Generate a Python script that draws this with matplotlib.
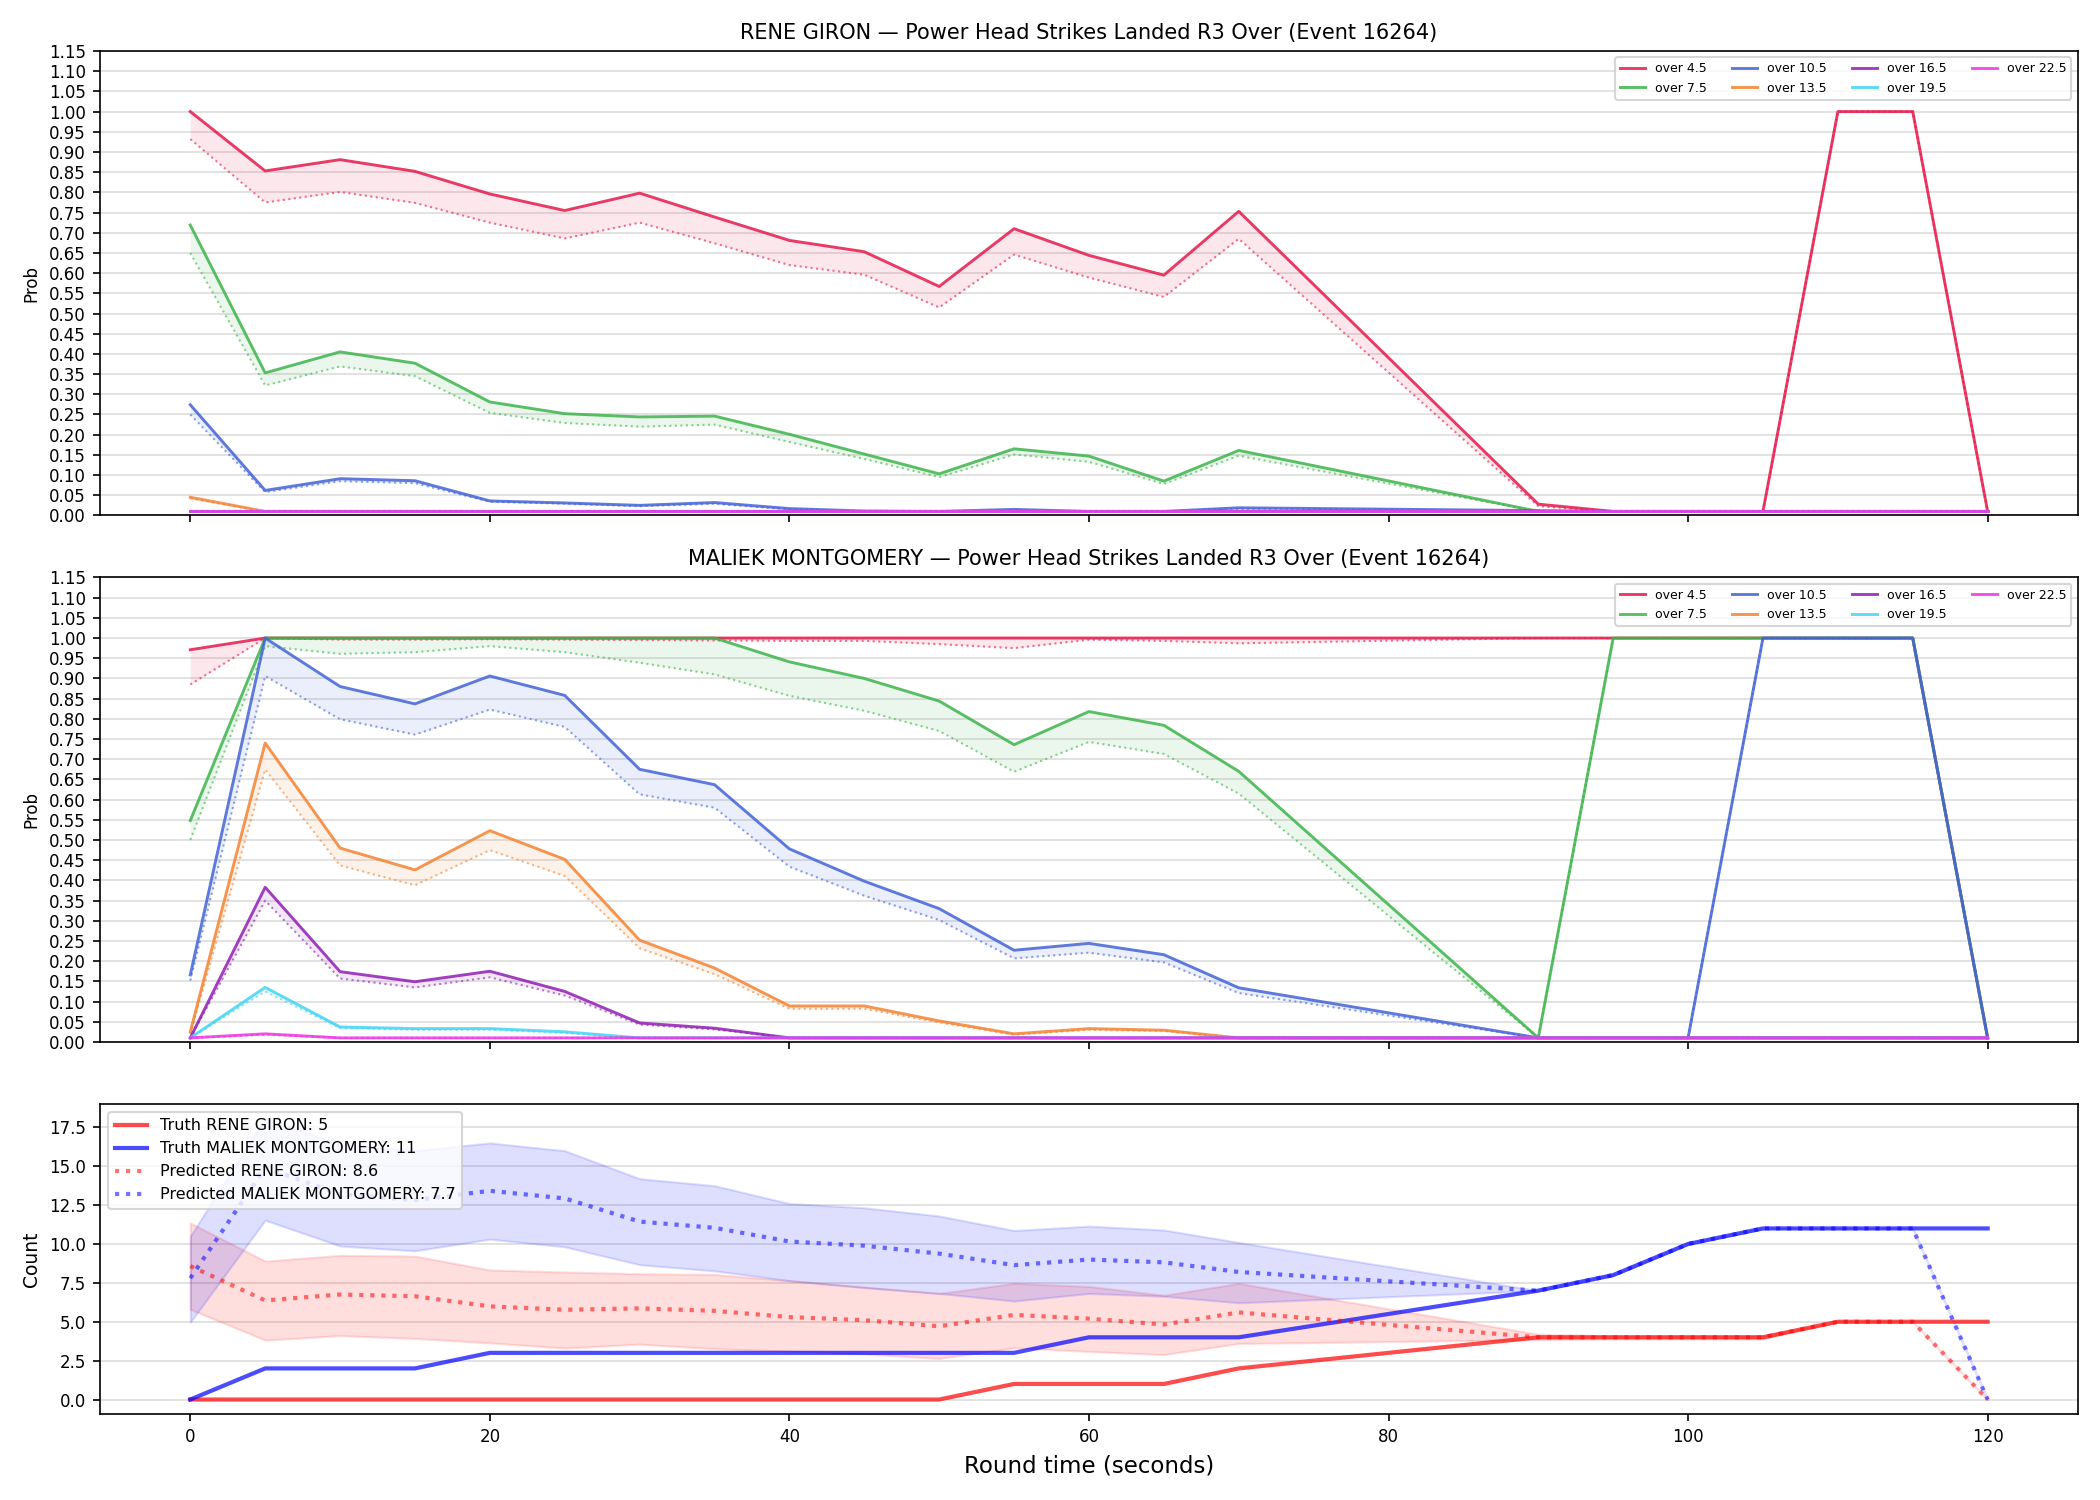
import numpy as np
import matplotlib
matplotlib.use('Agg')
import matplotlib.pyplot as plt

# round time checkpoints (no snapshots between 70 and 90)
t = [0, 5, 10, 15, 20, 25, 30, 35, 40, 45, 50, 55, 60, 65, 70, 90, 95, 100, 105, 110, 115, 120]

lines = ['over 4.5', 'over 7.5', 'over 10.5', 'over 13.5', 'over 16.5', 'over 19.5', 'over 22.5']
colors = ['#e6194B', '#3cb44b', '#4363d8', '#f58231', '#911eb4', '#42d4f4', '#f032e6']

# RENE GIRON: market (solid) vs model (dotted)
giron_mkt = [
    [1.00, 0.853, 0.881, 0.852, 0.796, 0.755, 0.798, 0.739, 0.681, 0.653, 0.567, 0.710, 0.644, 0.595, 0.753, 0.028, 0.01, 0.01, 0.01, 1.0, 1.0, 0.01],
    [0.719, 0.353, 0.405, 0.377, 0.281, 0.252, 0.244, 0.246, 0.201, 0.152, 0.103, 0.165, 0.147, 0.085, 0.161, 0.01, 0.01, 0.01, 0.01, 0.01, 0.01, 0.01],
    [0.274, 0.062, 0.091, 0.086, 0.036, 0.031, 0.025, 0.032, 0.017, 0.011, 0.01, 0.015, 0.01, 0.01, 0.019, 0.012, 0.01, 0.01, 0.01, 0.01, 0.01, 0.01],
    [0.045, 0.01, 0.01, 0.01, 0.01, 0.01, 0.01, 0.01, 0.01, 0.01, 0.01, 0.01, 0.01, 0.01, 0.01, 0.01, 0.01, 0.01, 0.01, 0.01, 0.01, 0.01],
    [0.01] * 22,
    [0.01] * 22,
    [0.01] * 22,
]
giron_model = [
    [0.932, 0.775, 0.801, 0.774, 0.725, 0.686, 0.725, 0.674, 0.620, 0.596, 0.515, 0.646, 0.589, 0.541, 0.685, 0.023, 0.01, 0.01, 0.01, 1.0, 1.0, 0.01],
    [0.650, 0.322, 0.369, 0.345, 0.254, 0.229, 0.220, 0.225, 0.182, 0.140, 0.095, 0.151, 0.133, 0.078, 0.148, 0.01, 0.01, 0.01, 0.01, 0.01, 0.01, 0.01],
    [0.250, 0.058, 0.085, 0.080, 0.034, 0.029, 0.023, 0.029, 0.015, 0.01, 0.01, 0.013, 0.01, 0.01, 0.016, 0.011, 0.01, 0.01, 0.01, 0.01, 0.01, 0.01],
    [0.042, 0.01, 0.01, 0.01, 0.01, 0.01, 0.01, 0.01, 0.01, 0.01, 0.01, 0.01, 0.01, 0.01, 0.01, 0.01, 0.01, 0.01, 0.01, 0.01, 0.01, 0.01],
    [0.01] * 22,
    [0.01] * 22,
    [0.01] * 22,
]

# MALIEK MONTGOMERY
mont_mkt = [
    [0.971, 1.0, 1.0, 1.0, 1.0, 1.0, 1.0, 1.0, 1.0, 1.0, 1.0, 1.0, 1.0, 1.0, 1.0, 1.0, 1.0, 1.0, 1.0, 1.0, 1.0, 0.01],
    [0.548, 1.0, 1.0, 1.0, 1.0, 1.0, 1.0, 1.0, 0.941, 0.900, 0.844, 0.736, 0.818, 0.784, 0.670, 0.01, 1.0, 1.0, 1.0, 1.0, 1.0, 0.01],
    [0.166, 1.0, 0.880, 0.837, 0.906, 0.858, 0.675, 0.637, 0.478, 0.398, 0.330, 0.227, 0.244, 0.216, 0.134, 0.01, 0.01, 0.01, 1.0, 1.0, 1.0, 0.01],
    [0.025, 0.740, 0.480, 0.426, 0.523, 0.452, 0.252, 0.183, 0.089, 0.089, 0.052, 0.020, 0.033, 0.029, 0.01, 0.01, 0.01, 0.01, 0.01, 0.01, 0.01, 0.01],
    [0.01, 0.383, 0.174, 0.149, 0.175, 0.125, 0.047, 0.034, 0.01, 0.01, 0.01, 0.01, 0.01, 0.01, 0.01, 0.01, 0.01, 0.01, 0.01, 0.01, 0.01, 0.01],
    [0.01, 0.135, 0.037, 0.033, 0.033, 0.025, 0.01, 0.01, 0.01, 0.01, 0.01, 0.01, 0.01, 0.01, 0.01, 0.01, 0.01, 0.01, 0.01, 0.01, 0.01, 0.01],
    [0.01, 0.02, 0.01, 0.01, 0.01, 0.01, 0.01, 0.01, 0.01, 0.01, 0.01, 0.01, 0.01, 0.01, 0.01, 0.01, 0.01, 0.01, 0.01, 0.01, 0.01, 0.01],
]
mont_model = [
    [0.885, 1.0, 0.996, 0.996, 0.997, 0.996, 0.995, 0.994, 0.993, 0.993, 0.985, 0.975, 0.996, 0.993, 0.987, 1.0, 1.0, 1.0, 1.0, 1.0, 1.0, 0.01],
    [0.500, 0.980, 0.961, 0.965, 0.980, 0.965, 0.939, 0.910, 0.857, 0.820, 0.770, 0.669, 0.743, 0.713, 0.615, 0.01, 1.0, 1.0, 1.0, 1.0, 1.0, 0.01],
    [0.152, 0.906, 0.799, 0.761, 0.823, 0.780, 0.613, 0.580, 0.434, 0.362, 0.302, 0.207, 0.221, 0.197, 0.121, 0.01, 0.01, 0.01, 1.0, 1.0, 1.0, 0.01],
    [0.020, 0.675, 0.437, 0.388, 0.475, 0.411, 0.232, 0.168, 0.082, 0.082, 0.048, 0.018, 0.030, 0.027, 0.01, 0.01, 0.01, 0.01, 0.01, 0.01, 0.01, 0.01],
    [0.01, 0.350, 0.157, 0.135, 0.160, 0.115, 0.043, 0.031, 0.01, 0.01, 0.01, 0.01, 0.01, 0.01, 0.01, 0.01, 0.01, 0.01, 0.01, 0.01, 0.01, 0.01],
    [0.01, 0.125, 0.034, 0.030, 0.030, 0.022, 0.01, 0.01, 0.01, 0.01, 0.01, 0.01, 0.01, 0.01, 0.01, 0.01, 0.01, 0.01, 0.01, 0.01, 0.01, 0.01],
    [0.01, 0.018, 0.01, 0.01, 0.01, 0.01, 0.01, 0.01, 0.01, 0.01, 0.01, 0.01, 0.01, 0.01, 0.01, 0.01, 0.01, 0.01, 0.01, 0.01, 0.01, 0.01],
]

# counts
truth_giron = [0, 0, 0, 0, 0, 0, 0, 0, 0, 0, 0, 1, 1, 1, 2, 4, 4, 4, 4, 5, 5, 5]
truth_mont = [0, 2, 2, 2, 3, 3, 3, 3, 3, 3, 3, 3, 4, 4, 4, 7, 8, 10, 11, 11, 11, 11]
pred_giron = [8.58, 6.37, 6.75, 6.64, 5.99, 5.77, 5.86, 5.70, 5.30, 5.10, 4.71, 5.44, 5.20, 4.82, 5.60, 4.0, 4.0, 4.0, 4.0, 5.0, 5.0, 0.0]
pred_giron_lo = [5.8, 3.82, 4.11, 3.93, 3.64, 3.31, 3.56, 3.27, 3.11, 2.93, 2.64, 3.33, 3.09, 2.89, 3.6, 3.85, 3.9, 3.9, 3.9, 5.0, 5.0, 0.0]
pred_giron_hi = [11.35, 8.9, 9.27, 9.22, 8.33, 8.2, 8.09, 8.04, 7.64, 7.22, 6.82, 7.47, 7.27, 6.7, 7.47, 4.2, 4.1, 4.1, 4.1, 5.0, 5.0, 0.0]
pred_mont = [7.8, 14.9, 13.2, 12.82, 13.42, 12.93, 11.44, 11.04, 10.16, 9.89, 9.38, 8.64, 9.0, 8.82, 8.2, 7.0, 8.0, 10.0, 11.0, 11.0, 11.0, 0.0]
pred_mont_lo = [4.97, 11.53, 9.87, 9.56, 10.31, 9.82, 8.67, 8.27, 7.64, 7.2, 6.82, 6.33, 6.82, 6.64, 6.22, 7.0, 8.0, 10.0, 11.0, 11.0, 11.0, 0.0]
pred_mont_hi = [10.5, 18.1, 16.4, 16.0, 16.5, 16.0, 14.2, 13.75, 12.6, 12.33, 11.8, 10.87, 11.15, 10.9, 10.1, 7.0, 8.0, 10.0, 11.0, 11.0, 11.0, 0.0]

fig, axes = plt.subplots(3, 1, figsize=(14, 10), dpi=150, sharex=True,
                         gridspec_kw={'height_ratios': [3, 3, 2]})

titles = ['RENE GIRON \u2014 Power Head Strikes Landed R3 Over (Event 16264)',
          'MALIEK MONTGOMERY \u2014 Power Head Strikes Landed R3 Over (Event 16264)']

for ax, mkt, model, title in zip(axes[:2], [giron_mkt, mont_mkt], [giron_model, mont_model], titles):
    for i in range(len(lines)):
        ax.plot(t, mkt[i], color=colors[i], lw=1.4, alpha=0.85, label=lines[i])
        ax.plot(t, model[i], color=colors[i], lw=1.0, ls=':', alpha=0.6)
        ax.fill_between(t, mkt[i], model[i], color=colors[i], alpha=0.1, lw=0)
    ax.set_ylim(0, 1.15)
    ax.set_yticks(np.arange(0, 1.151, 0.05))
    ax.set_ylabel('Prob', fontsize=8)
    ax.set_title(title, fontsize=10)
    ax.grid(axis='y', color='#dddddd', lw=0.8)
    ax.set_axisbelow(True)
    ax.tick_params(labelsize=8)
    ax.legend(ncol=4, fontsize=6, loc='upper right')

ax = axes[2]
ax.plot(t, truth_giron, color='red', lw=2, alpha=0.7, label='Truth RENE GIRON: 5')
ax.plot(t, truth_mont, color='blue', lw=2, alpha=0.7, label='Truth MALIEK MONTGOMERY: 11')
ax.plot(t, pred_giron, color='red', lw=2, ls=':', alpha=0.55, label='Predicted RENE GIRON: 8.6')
ax.fill_between(t, pred_giron_lo, pred_giron_hi, color='red', alpha=0.13)
ax.plot(t, pred_mont, color='blue', lw=2, ls=':', alpha=0.55, label='Predicted MALIEK MONTGOMERY: 7.7')
ax.fill_between(t, pred_mont_lo, pred_mont_hi, color='blue', alpha=0.13)
ax.set_ylabel('Count', fontsize=9)
ax.set_xlabel('Round time (seconds)', fontsize=11)
ax.grid(axis='y', color='#dddddd', lw=0.8)
ax.set_axisbelow(True)
ax.tick_params(labelsize=8)
ax.legend(loc='upper left', fontsize=7.7)

plt.tight_layout()
plt.savefig('out.png')
